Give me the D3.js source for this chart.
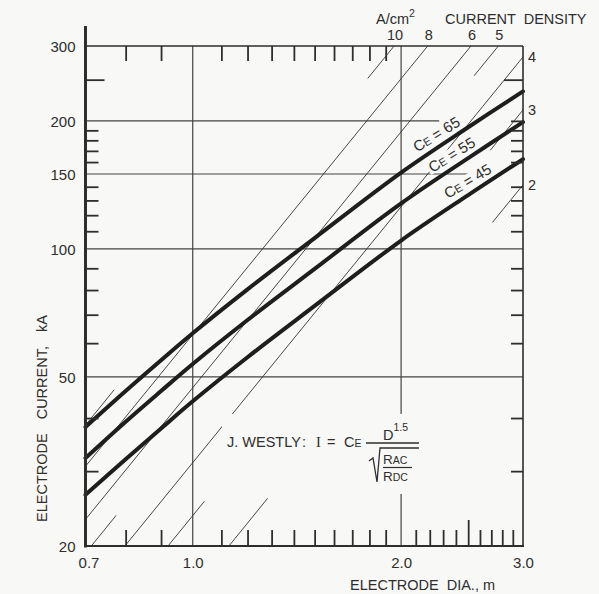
<!DOCTYPE html>
<html>
<head>
<meta charset="utf-8">
<script src="https://cdn.jsdelivr.net/npm/d3@7"></script>
<style>
  body { margin: 0; background: #f8f8f6; }
  svg { display: block; }
  text { font-family: "Liberation Sans", Arial, Helvetica, sans-serif; fill: #2e2e2e; }
</style>
</head>
<body>
<script>
// electrode diameter (m) where the three curves were read
var diameters = [0.7, 0.8, 0.9, 1.0, 1.2, 1.5, 2.0, 2.5, 3.0];
// electrode current (kA) for each Ce
var ce65 = [38.1, 46.3, 54.7, 63.3, 80.3, 106.0, 151.1, 193.2, 234.7];
var ce55 = [32.2, 39.2, 46.3, 53.6, 68.0, 89.7, 127.9, 163.5, 198.6];
var ce45 = [26.4, 32.0, 37.8, 43.8, 55.6, 73.4, 104.6, 133.8, 162.5];
var ceNames = ["65", "55", "45"];

// current density lines (A/cm2), drawn in pieces: [[D, I], [D, I]]
var densityNames = ["10", "8", "6", "5", "4", "3", "2"];
var densitySegments = [
  [[[0.7, 38.5], [0.77, 46.6]], [[1.79, 251.7], [1.954, 300]]],
  [[[0.7, 30.8], [2.185, 300]]],
  [[[0.7, 23.1], [2.523, 300]]],
  [[[0.7137, 20], [0.775, 23.6]], [[2.55, 255.4], [2.764, 300]]],
  [[[0.798, 20], [3.0, 282.7]]],
  [[[0.921, 20], [1.04, 25.5]], [[2.69, 170.5], [3.0, 212.1]]],
  [[[1.128, 20], [1.283, 25.9]], [[2.71, 115.4], [3.0, 141.4]]]
];

// ticks and grid
var xLabels = [0.7, 1.0, 2.0, 3.0];
var yLabels = [20, 50, 100, 150, 200, 300];
var xBottomTicks = [0.8, 0.9, 1.1, 1.2, 1.3, 1.4, 1.5, 1.6, 1.7, 1.8, 1.9,
                    2.1, 2.2, 2.3, 2.4, 2.6, 2.7, 2.8, 2.9];
var xTopTicks = [0.8, 0.9, 1.1, 1.2, 1.3, 1.4, 1.5, 1.6, 1.7, 1.8, 1.9];
var xLongTicks = [2.5];
var yTicks = [30, 40, 60, 70, 80, 90, 110, 120, 130, 140, 160, 170, 180, 190];
var yRightTicks = [30, 40, 60, 70, 80, 90, 110, 120, 130, 140, 160, 170, 180, 190, 200];
var yLongTicks = [250];
var hGrid = [200, 150, 100, 50];
var hGridEnd = [2.27, 2.5, 3.0, 3.0];
var vGrid = [1.0, 2.0];

var W = 599, H = 594, bg = "#f8f8f6", ink = "#2e2e2e";

var x = d3.scaleLog().domain([0.7, 3.0]).range([85.5, 523]);
var y = d3.scaleLog().domain([20, 300]).range([546, 46]);

var svg = d3.select("body").append("svg").attr("width", W).attr("height", H);

// grid lines
svg.append("g").selectAll("line").data(hGrid).enter().append("line")
  .attr("x1", x(0.7)).attr("x2", (d, i) => x(hGridEnd[i]))
  .attr("y1", d => y(d)).attr("y2", d => y(d))
  .attr("stroke", "#444").attr("stroke-width", 1.2);
svg.append("g").selectAll("line").data(vGrid).enter().append("line")
  .attr("x1", d => x(d)).attr("x2", d => x(d))
  .attr("y1", y(20)).attr("y2", y(300))
  .attr("stroke", "#444").attr("stroke-width", 1.2);

// current density lines
var segLine = d3.line().x(d => x(d[0])).y(d => y(d[1]));
svg.append("g").selectAll("path").data(d3.merge(densitySegments)).enter().append("path")
  .attr("d", segLine).attr("fill", "none")
  .attr("stroke", "#333").attr("stroke-width", 0.9);

// density labels: top ones where line meets top, right ones at right edge
densitySegments.forEach(function (segs, i) {
  var end = segs[segs.length - 1][1];
  if (end[1] >= 300) {
    svg.append("text").attr("x", x(end[0]) + 1).attr("y", 40)
      .attr("text-anchor", "middle").attr("font-size", 14.5).text(densityNames[i]);
  } else {
    svg.append("text").attr("x", 528).attr("y", y(end[1]) + 5)
      .attr("font-size", 14.5).text(densityNames[i]);
  }
});

// Ce curves
var ceLine = d3.line().x((d, i) => x(diameters[i])).y(d => y(d)).curve(d3.curveCatmullRom);
var ceSeries = [ce65, ce55, ce45];
svg.append("g").selectAll("path").data(ceSeries).enter().append("path")
  .attr("d", ceLine).attr("fill", "none")
  .attr("stroke", "#1e1e1e").attr("stroke-width", 4).attr("stroke-linecap", "round");

// Ce labels along the curves
var labelAt = [2.3, 2.42, 2.55];
ceSeries.forEach(function (s, i) {
  var d0 = labelAt[i];
  var j = d3.bisectLeft(diameters, d0);
  var t = Math.log(d0 / diameters[j - 1]) / Math.log(diameters[j] / diameters[j - 1]);
  var iv = Math.exp(Math.log(s[j - 1]) + t * Math.log(s[j] / s[j - 1]));
  var dx = x(diameters[j]) - x(diameters[j - 1]);
  var dy = y(s[j]) - y(s[j - 1]);
  var ang = Math.atan2(dy, dx);
  var off = 12;
  var cx = x(d0) + Math.sin(ang) * off;
  var cy = y(iv) - Math.cos(ang) * off;
  var g = svg.append("g").attr("transform",
    "translate(" + cx + "," + cy + ") rotate(" + (ang * 180 / Math.PI + 2) + ")");
  var rect = g.append("rect").attr("fill", bg);
  var t1 = g.append("text").attr("text-anchor", "middle").attr("dy", "0.35em")
    .attr("font-size", 15).style("white-space", "pre");
  t1.append("tspan").text("C");
  t1.append("tspan").attr("font-size", 11).text("E");
  t1.append("tspan").text(" = " + ceNames[i]);
  var bb = t1.node().getBBox();
  rect.attr("x", bb.x - 2).attr("y", -6.5).attr("width", bb.width + 4).attr("height", 13);
});

// formula
var fg = svg.append("g");
fg.append("rect").attr("x", 222).attr("y", 414).attr("width", 200).attr("height", 80).attr("fill", bg);
var ft = fg.append("text").attr("y", 447).attr("font-size", 14.5);
ft.append("tspan").attr("x", 227).text("J. WESTLY");
ft.append("tspan").attr("x", 302).text(":");
ft.append("tspan").attr("x", 316).style("font-family", "Liberation Serif, serif").text("I");
ft.append("tspan").attr("x", 327).text("=");
ft.append("tspan").attr("x", 344).text("C");
ft.append("tspan").attr("font-size", 10.5).text("E");
var fd = fg.append("text").attr("x", 383).attr("y", 440).attr("font-size", 14.5);
fd.append("tspan").text("D");
fd.append("tspan").attr("font-size", 10.5).attr("dy", -9).text("1.5");
fg.append("line").attr("x1", 366).attr("x2", 419).attr("y1", 443).attr("y2", 443)
  .attr("stroke", ink).attr("stroke-width", 1.3);
fg.append("path").attr("d", "M369,461 L373,458 L377,482 L380,448 L419,448")
  .attr("fill", "none").attr("stroke", ink).attr("stroke-width", 1.3);
var fr = fg.append("text").attr("x", 383).attr("y", 464).attr("font-size", 13.5);
fr.append("tspan").text("R");
fr.append("tspan").attr("font-size", 10.5).text("AC");
fg.append("line").attr("x1", 383).attr("x2", 412).attr("y1", 467.5).attr("y2", 467.5)
  .attr("stroke", ink).attr("stroke-width", 1.2);
var fr2 = fg.append("text").attr("x", 383).attr("y", 481).attr("font-size", 13.5);
fr2.append("tspan").text("R");
fr2.append("tspan").attr("font-size", 10.5).text("DC");

// tick marks, pointing inwards
function ticks(axis, tx, ty) {
  var g = svg.append("g").attr("transform", "translate(" + tx + "," + ty + ")").call(axis);
  g.select(".domain").remove();
  g.selectAll("line").attr("stroke", ink).attr("stroke-width", 1.8);
  return g;
}
ticks(d3.axisTop(x).tickValues(xBottomTicks).tickSize(16).tickSizeOuter(0).tickFormat(""), 0, 546);
ticks(d3.axisTop(x).tickValues(xLongTicks).tickSize(26).tickSizeOuter(0).tickFormat(""), 0, 546);
ticks(d3.axisBottom(x).tickValues(xTopTicks).tickSize(15).tickSizeOuter(0).tickFormat(""), 0, 46);
ticks(d3.axisRight(y).tickValues(yTicks).tickSize(13).tickSizeOuter(0).tickFormat(""), 85.5, 0);
ticks(d3.axisRight(y).tickValues(yLongTicks).tickSize(19).tickSizeOuter(0).tickFormat(""), 85.5, 0);
ticks(d3.axisLeft(y).tickValues(yRightTicks).tickSize(12).tickSizeOuter(0).tickFormat(""), 523, 0);
ticks(d3.axisLeft(y).tickValues(yLongTicks).tickSize(19).tickSizeOuter(0).tickFormat(""), 523, 0);

// tick labels
var yl = svg.append("g").attr("transform", "translate(85.5,0)")
  .call(d3.axisLeft(y).tickValues(yLabels).tickSize(0).tickPadding(10).tickFormat(d3.format("d")));
yl.select(".domain").remove();
yl.selectAll("text").attr("font-size", 15).attr("font-family", null).attr("fill", ink).attr("dy", "0.36em");
var xl = svg.append("g").attr("transform", "translate(0,546)")
  .call(d3.axisBottom(x).tickValues(xLabels).tickSize(0).tickPadding(11).tickFormat(d3.format(".1f")));
xl.select(".domain").remove();
xl.selectAll("text").attr("font-size", 15).attr("font-family", null).attr("fill", ink);
xl.selectAll(".tick").filter(d => d === 0.7).select("text").attr("dx", 3);

// frame
svg.append("line").attr("x1", 85.5).attr("x2", 85.5).attr("y1", 26).attr("y2", 547.5)
  .attr("stroke", ink).attr("stroke-width", 3);
svg.append("line").attr("x1", 84).attr("x2", 524).attr("y1", 546).attr("y2", 546)
  .attr("stroke", ink).attr("stroke-width", 2.2);
svg.append("line").attr("x1", 523).attr("x2", 523).attr("y1", 46).attr("y2", 546)
  .attr("stroke", ink).attr("stroke-width", 1.6);
svg.append("line").attr("x1", 85).attr("x2", 523).attr("y1", 46).attr("y2", 46)
  .attr("stroke", ink).attr("stroke-width", 1.6);

// titles
svg.append("text").attr("x", 350).attr("y", 590).attr("font-size", 14.5)
  .style("white-space", "pre").text("ELECTRODE  DIA., m");
svg.append("text").attr("transform", "translate(47,522) rotate(-90)").attr("font-size", 14.5)
  .attr("word-spacing", 10).style("white-space", "pre").text("ELECTRODE CURRENT, kA");
var au = svg.append("text").attr("x", 376).attr("y", 24).attr("font-size", 14.5);
au.append("tspan").text("A/cm");
au.append("tspan").attr("font-size", 10.5).attr("dy", -7).text("2");
svg.append("text").attr("x", 445).attr("y", 24).attr("font-size", 14.5)
  .style("white-space", "pre").text("CURRENT  DENSITY");
</script>
</body>
</html>
